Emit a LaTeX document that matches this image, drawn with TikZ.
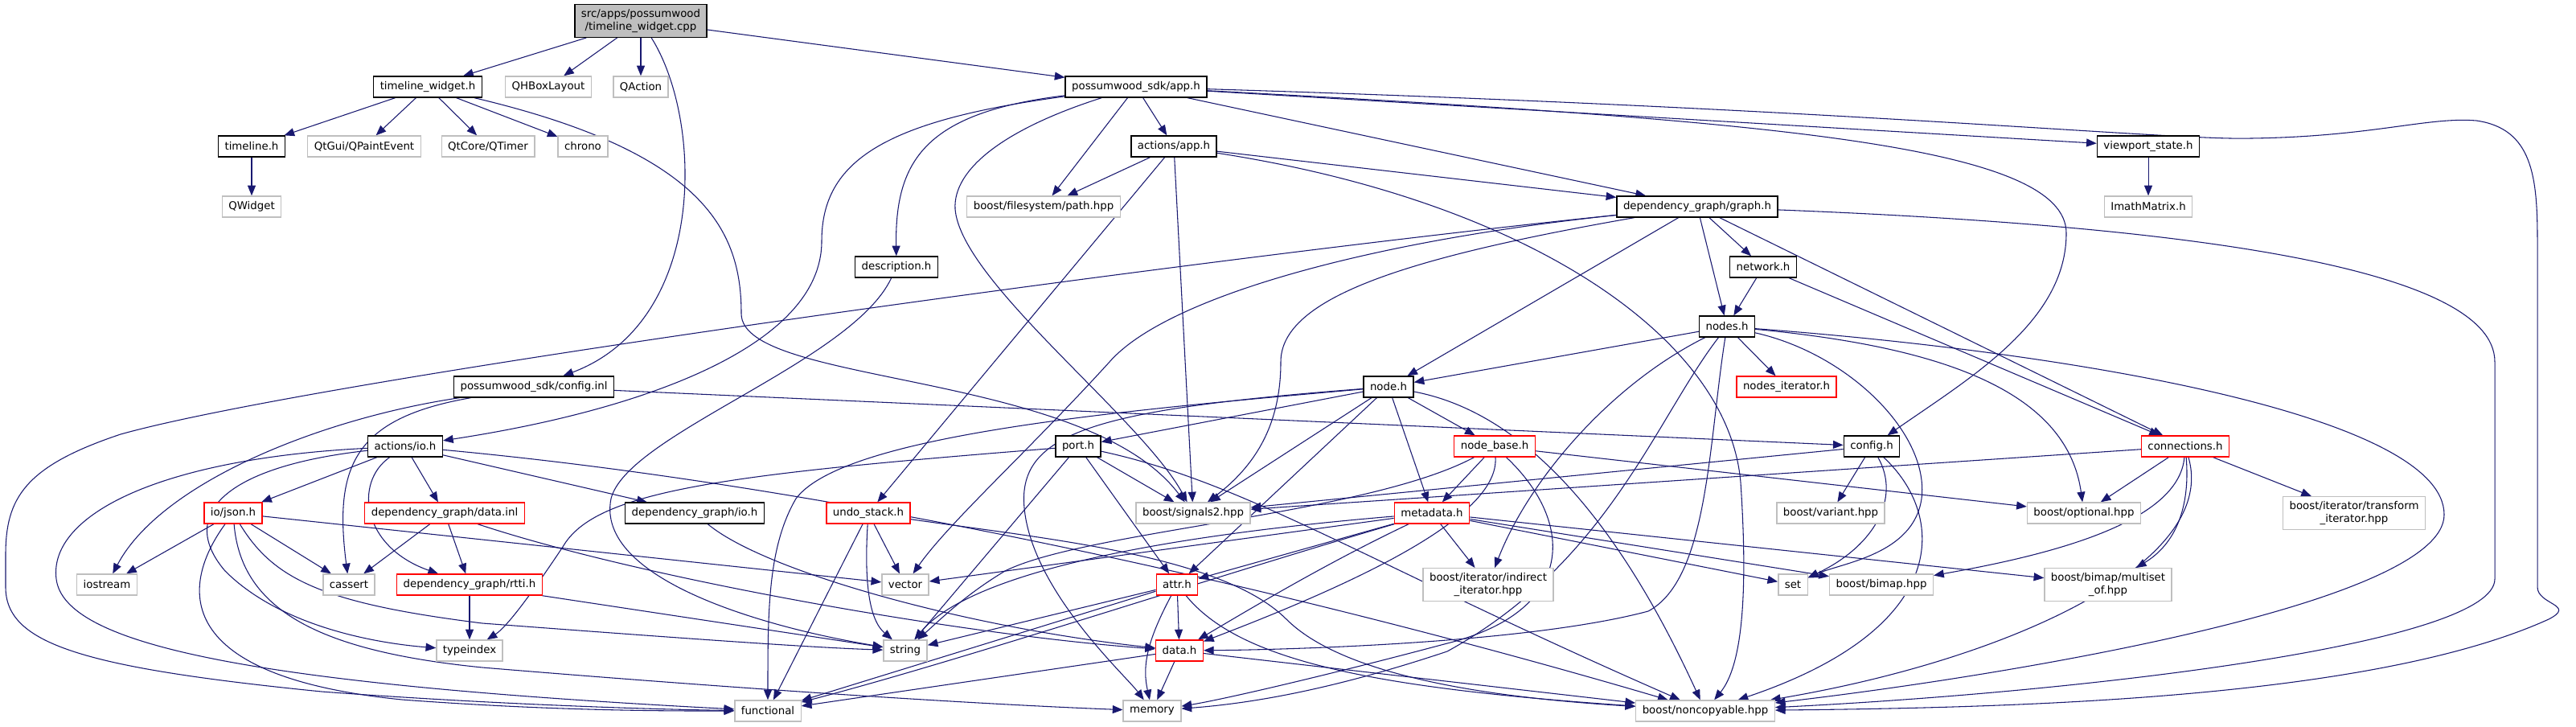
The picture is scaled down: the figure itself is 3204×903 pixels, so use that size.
\documentclass[tikz,border=0pt]{standalone}
\usepackage{fontspec}
\setmainfont{DejaVu Sans}
\usetikzlibrary{arrows.meta}
\pgfdeclarelayer{edgelayer}
\pgfsetlayers{edgelayer,main}
\definecolor{edgeblue}{RGB}{25,25,112}
\definecolor{extgray}{RGB}{191,191,191}
\definecolor{rootgray}{RGB}{191,191,191}
\begin{document}
\begin{tikzpicture}[x=0.75pt,y=-0.75pt,
  nd/.style={draw=black, line width=1pt, fill=white, minimum height=19.5pt, inner xsep=6pt, inner ysep=2pt,
    font=\fontsize{10}{11.5}\selectfont, align=center},
  extn/.style={nd, draw=extgray},
  redn/.style={nd, draw=red},
  rootn/.style={nd, fill=rootgray},
  two/.style={minimum height=30.5pt},
  edg/.style={draw=edgeblue, line width=0.8pt, -{Triangle[length=9.5pt,width=7.5pt]}}]
\useasboundingbox (0,0) rectangle (3204,903);
% nodes
\node[rootn,two] (cpp) at (797,26) {src/apps/possumwood\\/timeline\_widget.cpp};
\node[nd] (twh) at (532,108) {timeline\_widget.h};
\node[extn] (qhb) at (682,108) {QHBoxLayout};
\node[extn] (qact) at (797,108) {QAction};
\node[nd] (app) at (1413,108) {possumwood\_sdk/app.h};
\node[nd] (tlh) at (313,182) {timeline.h};
\node[extn] (qpe) at (453,182) {QtGui/QPaintEvent};
\node[extn] (qtm) at (607,182) {QtCore/QTimer};
\node[extn] (chr) at (725,182) {chrono};
\node[nd] (aapp) at (1460,182) {actions/app.h};
\node[nd] (vps) at (2672,182) {viewport\_state.h};
\node[extn] (qw) at (313,257) {QWidget};
\node[extn] (pathh) at (1298,257) {boost/filesystem/path.hpp};
\node[nd] (graph) at (2111,257) {dependency\_graph/graph.h};
\node[extn] (imath) at (2672,257) {ImathMatrix.h};
\node[nd] (desc) at (1115,332) {description.h};
\node[nd] (net) at (2193,332) {network.h};
\node[nd] (nodes) at (2148,406) {nodes.h};
\node[nd] (cinl) at (664,481) {possumwood\_sdk/config.inl};
\node[nd] (nodeh) at (1727,481) {node.h};
\node[redn] (nit) at (2222,481) {nodes\_iterator.h};
\node[nd] (aio) at (504,555) {actions/io.h};
\node[nd] (porth) at (1341,555) {port.h};
\node[nd] (cfg) at (2328,555) {config.h};
\node[redn] (nb) at (1859,555) {node\_base.h};
\node[redn] (conn) at (2718,555) {connections.h};
\node[redn] (json) at (290,638) {io/json.h};
\node[redn] (dinl) at (553,638) {dependency\_graph/data.inl};
\node[nd] (dio) at (864,638) {dependency\_graph/io.h};
\node[redn] (undo) at (1080,638) {undo\_stack.h};
\node[extn] (sig) at (1484,638) {boost/signals2.hpp};
\node[redn] (meta) at (1781,638) {metadata.h};
\node[extn] (var) at (2277,638) {boost/variant.hpp};
\node[extn] (opt) at (2592,638) {boost/optional.hpp};
\node[extn,two] (trans) at (2928,638) {boost/iterator/transform\\\_iterator.hpp};
\node[extn] (ios) at (133,727) {iostream};
\node[extn] (cas) at (434,727) {cassert};
\node[redn] (rtti) at (584,727) {dependency\_graph/rtti.h};
\node[extn] (vec) at (1126,727) {vector};
\node[redn] (attr) at (1464,727) {attr.h};
\node[extn,two] (ind) at (1851,727) {boost/iterator/indirect\\\_iterator.hpp};
\node[extn] (seth) at (2230,727) {set};
\node[extn] (bimap) at (2340,727) {boost/bimap.hpp};
\node[extn,two] (mso) at (2622,727) {boost/bimap/multiset\\\_of.hpp};
\node[extn] (tix) at (584,809) {typeindex};
\node[extn] (str) at (1126,809) {string};
\node[redn] (datah) at (1467,809) {data.h};
\node[extn] (fun) at (955,884) {functional};
\node[extn] (mem) at (1433,884) {memory};
\node[extn] (nc) at (2121,884) {boost/noncopyable.hpp};
% edges
\begin{pgfonlayer}{edgelayer}
\fill[white] (0,0) rectangle (3204,903);
% cpp
\draw[edg] (cpp) -- (twh);
\draw[edg] (cpp) -- (qhb);
\draw[edg] (cpp) -- (qact);
\draw[edg] (cpp) -- (app);
\draw[edg] (cpp) .. controls (875,150) and (880,400) .. (cinl);
% timeline_widget.h
\draw[edg] (twh) -- (tlh);
\draw[edg] (twh) -- (qpe);
\draw[edg] (twh) -- (qtm);
\draw[edg] (twh) -- (chr);
\draw[edg] (twh) .. controls (880,190) and (922,290) .. (922,390) .. controls (922,480) and (1350,460) .. (sig);
\draw[edg] (tlh) -- (qw);
% app.h
\draw[edg] (app) .. controls (1150,140) and (1113,200) .. (desc);
\draw[edg] (app) -- (aapp);
\draw[edg] (app) -- (pathh);
\draw[edg] (app) -- (graph);
\draw[edg] (app) -- (vps);
\draw[edg] (app) .. controls (1250,160) and (1185,210) .. (1188,260) .. controls (1195,350) and (1420,520) .. (sig);
\draw[edg] (app) .. controls (2200,150) and (2570,180) .. (2570,290) .. controls (2570,400) and (2450,470) .. (cfg);
\draw[edg] (app) .. controls (2300,135) and (2700,175) .. (2800,172) .. controls (2950,170) and (3020,145) .. (3080,150) .. controls (3150,160) and (3156,220) .. (3156,300) -- (3156,730) .. controls (3156,752) and (3205,752) .. (3170,770) .. controls (2950,870) and (2500,880) .. (nc);
\draw[edg] (app) .. controls (1100,150) and (1022,200) .. (1022,300) .. controls (1022,430) and (800,510) .. (aio);
% actions/app.h
\draw[edg] (aapp) -- (pathh);
\draw[edg] (aapp) -- (graph);
\draw[edg] (aapp) -- (sig);
\draw[edg] (aapp) -- (undo);
\draw[edg] (aapp) .. controls (1900,250) and (2150,420) .. (2165,600) .. controls (2175,750) and (2165,830) .. (nc);
\draw[edg] (vps) -- (imath);
% graph.h
\draw[edg] (graph) -- (net);
\draw[edg] (graph) -- (nodes);
\draw[edg] (graph) -- (nodeh);
\draw[edg] (graph) -- (conn);
\draw[edg] (graph) .. controls (2700,280) and (3103,330) .. (3103,450) -- (3103,720) .. controls (3103,800) and (2600,860) .. (nc);
\draw[edg] (graph) .. controls (1500,320) and (400,470) .. (150,540) .. controls (30,580) and (7,620) .. (7,690) -- (7,730) .. controls (7,800) and (100,830) .. (400,860) .. controls (600,875) and (800,882) .. (fun);
\draw[edg] (graph) .. controls (1700,300) and (1450,370) .. (1380,450) .. controls (1280,560) and (1180,650) .. (vec);
\draw[edg] (graph) .. controls (1750,320) and (1593,370) .. (1593,450) .. controls (1593,530) and (1560,580) .. (sig);
% network.h
\draw[edg] (net) -- (nodes);
\draw[edg] (net) -- (conn);
% nodes.h
\draw[edg] (nodes) -- (nodeh);
\draw[edg] (nodes) -- (nit);
\draw[edg] (nodes) .. controls (2000,480) and (1900,600) .. (ind);
\draw[edg] (nodes) .. controls (2060,520) and (2000,700) .. (1800,810) .. controls (1650,860) and (1550,875) .. (mem);
\draw[edg] (nodes) .. controls (2125,550) and (2125,720) .. (2050,760) .. controls (1900,800) and (1600,808) .. (datah);
\draw[edg] (nodes) .. controls (2300,440) and (2400,540) .. (2390,620) .. controls (2380,690) and (2290,700) .. (seth);
\draw[edg] (nodes) .. controls (2400,430) and (2570,480) .. (opt);
\draw[edg] (nodes) .. controls (2600,440) and (3040,520) .. (3040,640) .. controls (3040,750) and (2500,840) .. (nc);
% config.inl
\draw[edg] (cinl) -- (cfg);
\draw[edg] (cinl) .. controls (400,520) and (200,600) .. (ios);
\draw[edg] (cinl) .. controls (440,520) and (415,580) .. (cas);
% node.h
\draw[edg] (nodeh) -- (porth);
\draw[edg] (nodeh) -- (sig);
\draw[edg] (nodeh) -- (attr);
\draw[edg] (nodeh) -- (meta);
\draw[edg] (nodeh) -- (nb);
\draw[edg] (nodeh) .. controls (1880,510) and (2000,620) .. (nc);
\draw[edg] (nodeh) .. controls (1400,510) and (1050,540) .. (990,620) .. controls (955,680) and (955,760) .. (fun);
\draw[edg] (nodeh) .. controls (1350,510) and (1260,540) .. (1275,640) .. controls (1290,740) and (1400,840) .. (mem);
% actions/io.h
\draw[edg] (aio) -- (json);
\draw[edg] (aio) -- (dinl);
\draw[edg] (aio) -- (dio);
\draw[edg] (aio) .. controls (440,600) and (450,680) .. (rtti);
\draw[edg] (aio) .. controls (200,570) and (60,640) .. (70,720) .. controls (80,800) and (300,850) .. (fun);
\draw[edg] (aio) .. controls (280,580) and (220,640) .. (280,710) .. controls (350,780) and (470,800) .. (tix);
\draw[edg] (aio) .. controls (1100,610) and (1700,760) .. (nc);
% io/json.h
\draw[edg] (json) -- (ios);
\draw[edg] (json) -- (cas);
\draw[edg] (json) -- (vec);
\draw[edg] (json) .. controls (230,720) and (200,840) .. (500,870) .. controls (700,885) and (850,884) .. (fun);
\draw[edg] (json) .. controls (300,760) and (400,810) .. (600,830) .. controls (900,855) and (1200,875) .. (mem);
\draw[edg] (json) .. controls (340,720) and (400,750) .. (600,775) .. controls (800,790) and (1000,805) .. (str);
% data.inl, io.h, rtti.h
\draw[edg] (dinl) -- (cas);
\draw[edg] (dinl) -- (rtti);
\draw[edg] (dinl) .. controls (800,720) and (1200,790) .. (datah);
\draw[edg] (dio) .. controls (950,710) and (1200,780) .. (datah);
\draw[edg] (rtti) -- (tix);
\draw[edg] (rtti) -- (str);
% undo_stack.h
\draw[edg] (undo) -- (vec);
\draw[edg] (undo) .. controls (1075,720) and (1080,770) .. (str);
\draw[edg] (undo) -- (fun);
\draw[edg] (undo) .. controls (1300,670) and (1520,690) .. (1600,770) .. controls (1680,850) and (1900,870) .. (nc);
% port.h
\draw[edg] (porth) -- (sig);
\draw[edg] (porth) -- (attr);
\draw[edg] (porth) -- (str);
\draw[edg] (porth) .. controls (900,590) and (740,610) .. (700,680) .. controls (660,740) and (630,780) .. (tix);
\draw[edg] (porth) .. controls (1550,600) and (1700,700) .. (nc);
% config.h
\draw[edg] (cfg) -- (sig);
\draw[edg] (cfg) -- (var);
\draw[edg] (cfg) .. controls (2365,620) and (2330,680) .. (seth);
\draw[edg] (cfg) .. controls (2420,640) and (2430,780) .. (nc);
% node_base.h
\draw[edg] (nb) -- (meta);
\draw[edg] (nb) .. controls (1700,640) and (1350,660) .. (1250,710) .. controls (1200,740) and (1170,770) .. (str);
\draw[edg] (nb) .. controls (1865,640) and (1700,720) .. (datah);
\draw[edg] (nb) .. controls (1960,650) and (1960,760) .. (1800,800) .. controls (1650,840) and (1520,870) .. (mem);
\draw[edg] (nb) -- (opt);
% connections.h
\draw[edg] (conn) -- (sig);
\draw[edg] (conn) -- (opt);
\draw[edg] (conn) -- (trans);
\draw[edg] (conn) .. controls (2710,650) and (2550,690) .. (bimap);
\draw[edg] (conn) .. controls (2725,640) and (2700,680) .. (mso);
\draw[edg] (conn) .. controls (2760,700) and (2500,820) .. (nc);
% metadata.h
\draw[edg] (meta) -- (vec);
\draw[edg] (meta) .. controls (1400,670) and (1200,720) .. (str);
\draw[edg] (meta) -- (attr);
\draw[edg] (meta) .. controls (1650,700) and (1550,760) .. (datah);
\draw[edg] (meta) -- (ind);
\draw[edg] (meta) -- (seth);
\draw[edg] (meta) -- (bimap);
\draw[edg] (meta) -- (mso);
\draw[edg] (meta) .. controls (1500,720) and (1200,820) .. (fun);
% attr.h
\draw[edg] (attr) -- (datah);
\draw[edg] (attr) -- (str);
\draw[edg] (attr) -- (fun);
\draw[edg] (attr) .. controls (1425,800) and (1421,830) .. (mem);
\draw[edg] (attr) .. controls (1540,820) and (1700,855) .. (nc);
% data.h
\draw[edg] (datah) -- (mem);
\draw[edg] (datah) -- (fun);
\draw[edg] (datah) -- (nc);
% description.h
\draw[edg] (desc) .. controls (1060,450) and (780,540) .. (760,620) .. controls (740,720) and (950,780) .. (str);
\end{pgfonlayer}
\end{tikzpicture}
\end{document}
